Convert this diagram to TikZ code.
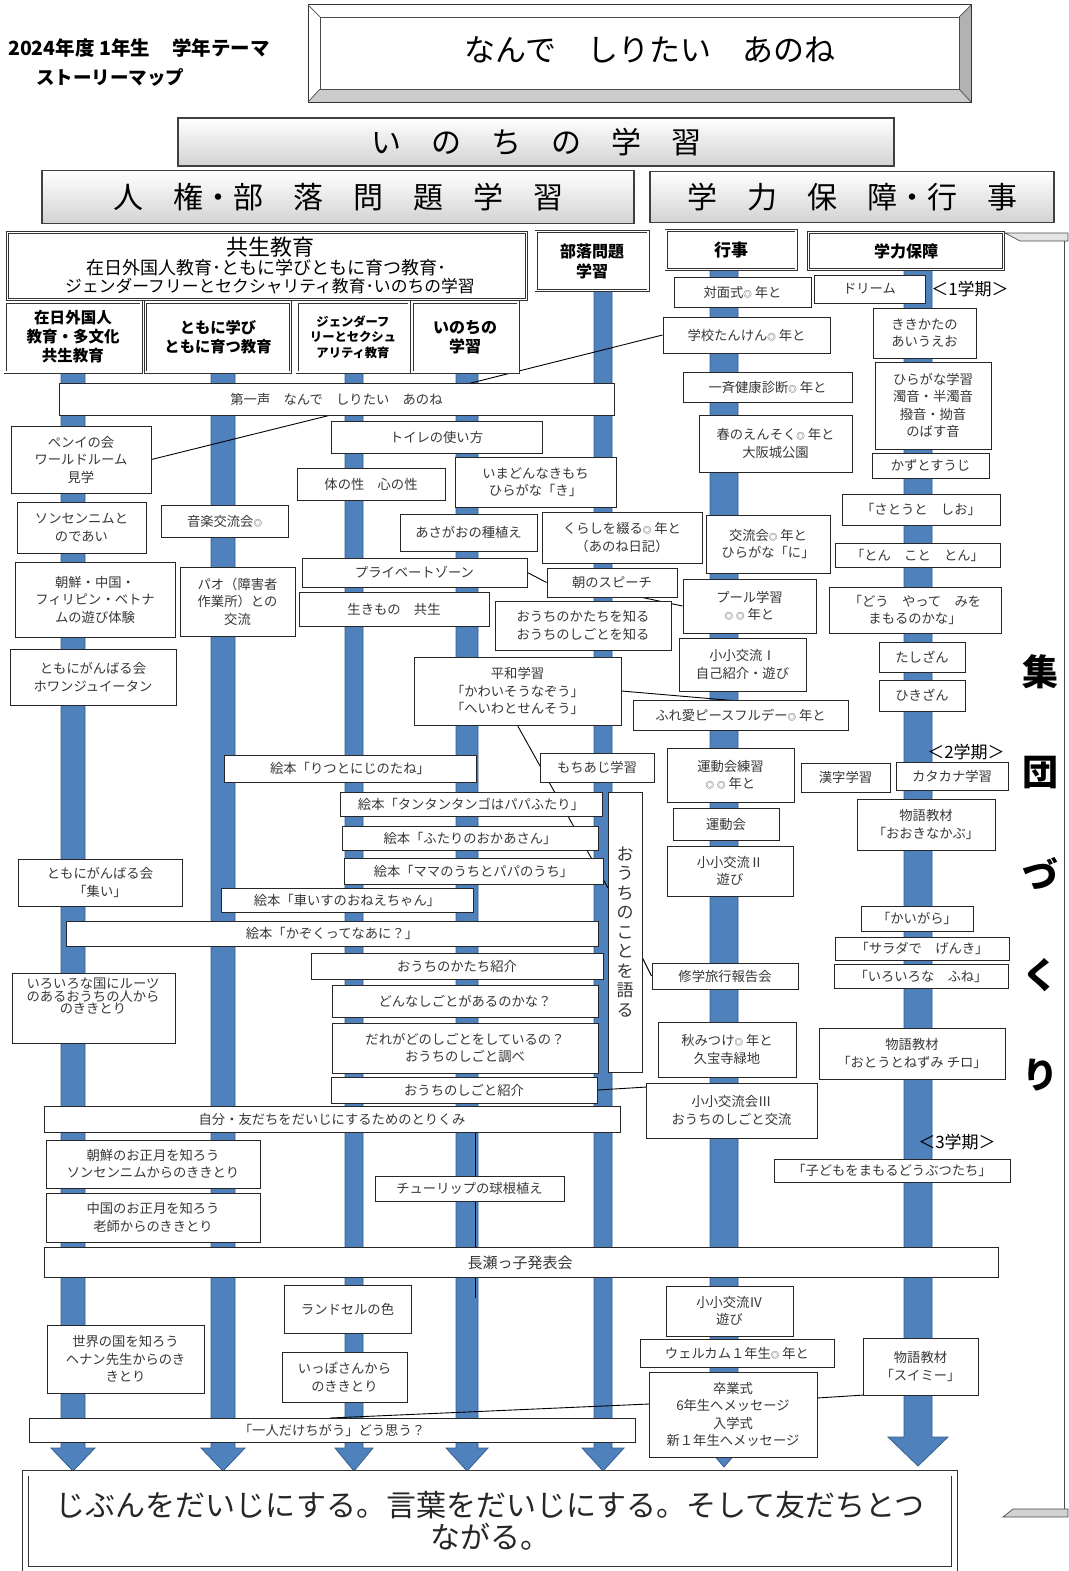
\documentclass[tikz,border=0pt]{standalone}
\usepackage{fontspec}
\setmainfont{Noto Sans CJK JP}
\usetikzlibrary{calc}
\pgfdeclarelayer{bg}
\pgfdeclarelayer{bars}
\pgfdeclarelayer{lines}
\pgfsetlayers{bg,bars,lines,main}
\definecolor{barblue}{RGB}{79,129,189}
\definecolor{baredge}{RGB}{52,94,146}
\definecolor{txt}{RGB}{55,55,55}
\newcommand\mk{{\fontsize{8.5}{8}\selectfont ◎}}
\tikzset{
  box/.style={draw=black!85, line width=1pt, fill=white, inner sep=0pt, align=center, text=txt, font=\fontsize{13.3}{17.5}\selectfont},
  hdr/.style={draw=black!80, line width=0.8pt, double=white, double distance=1.4pt, fill=white, inner sep=0pt, align=center, font=\bfseries\fontsize{15.3}{19}\selectfont},
  big/.style={draw=black!75, line width=1.4pt, top color=white, bottom color=gray!35, inner sep=0pt, font=\fontsize{30}{30}\selectfont},
  plain/.style={inner sep=0pt, align=center},
  conn/.style={draw=black, line width=0.9pt},
}
\newcommand\bx[7][]{\node[box,minimum width={(#5-#3)*1pt},minimum height={(#6-#4)*1pt},#1] (#2) at ({(#3+#5)/2},{(#4+#6)/2}) {#7};}
\newcommand\arr[6]{\filldraw[fill=barblue,draw=baredge,line width=0.8pt] (#1,#3) -- (#2,#3) -- (#2,#4) -- ({(#1+#2)/2+#6},#4) -- ({(#1+#2)/2},#5) -- ({(#1+#2)/2-#6},#4) -- (#1,#4) -- cycle;}
\begin{document}
\begin{tikzpicture}[x=1pt,y=-1pt]
\useasboundingbox (0,0) rectangle (1068,1571);
\begin{pgfonlayer}{bg}
\fill[white] (0,0) rectangle (1068,1571);
\end{pgfonlayer}
% ---------- blue column arrows
\begin{pgfonlayer}{bars}
\arr{61}{85}{372}{1448}{1471}{22}
\arr{211}{235}{372}{1448}{1471}{22}
\arr{345}{363}{372}{1448}{1471}{19}
\arr{456}{478}{372}{1448}{1471}{21}
\arr{594}{612}{290}{1448}{1471}{21}
\arr{710}{738}{268}{1445}{1467}{19}
\arr{904}{932}{268}{1437}{1466}{30}
\end{pgfonlayer}
% ---------- top title
\node[plain, anchor=west, font=\bfseries\fontsize{19.5}{20}\selectfont] (tl1) at (8,48) {2024年度 1年生\hspace{22pt}学年テーマ};
\node[plain, anchor=west, font=\bfseries\fontsize{18.5}{20}\selectfont] (tl2) at (36,77) {ストーリーマップ};
\fill[gray!40] (308,102) -- (320,89) -- (959,89) -- (971,102) -- cycle;
\fill[gray!60] (971,5) -- (959,17) -- (959,89) -- (971,102) -- cycle;
\draw[black!80, line width=1pt] (308,5) rectangle (971,102);
\draw[black!70, line width=0.7pt] (320,17) rectangle (959,89);
\draw[black!70, line width=0.7pt] (308,5) -- (320,17) (971,5) -- (959,17) (308,102) -- (320,89) (971,102) -- (959,89);
\node[plain, font=\fontsize{31}{31}\selectfont] (title) at (650,50) {なんで　しりたい　あのね};
\node[big, minimum width=716pt, minimum height=48pt] (inochi) at (536,142) {い　の　ち　の　学　習};
\node[big, minimum width=592pt, minimum height=53pt] (jinken) at (338,197) {人　権・部　落　問　題　学　習};
\node[big, minimum width=404pt, minimum height=51pt] (gakuryoku) at (852,197) {学　力　保　障・行　事};
% ---------- second row headers
\node[hdr, minimum width=519pt, minimum height=67pt] (kyosei) at (267,266) {};
\node[plain, font=\fontsize{22}{22}\selectfont] (kyoseiA) at (270,247) {共生教育};
\node[plain, font=\fontsize{18}{18}\selectfont] (kyoseiB) at (266,268) {在日外国人教育･ともに学びともに育つ教育･};
\node[plain, font=\fontsize{16.8}{17}\selectfont] (kyoseiC) at (270,286) {ジェンダーフリーとセクシャリティ教育･いのちの学習};
\node[hdr, minimum width=112pt, minimum height=59pt, font=\bfseries\fontsize{16}{20}\selectfont] (buraku) at (592,261) {部落問題\\学習};
\node[hdr, minimum width=130pt, minimum height=39pt, font=\bfseries\fontsize{17}{17}\selectfont] (gyoji) at (731,250) {行事};
\node[hdr, minimum width=195pt, minimum height=37pt, font=\bfseries\fontsize{16}{16}\selectfont] (gakuryokuH) at (906,251) {学力保障};
\node[hdr, minimum width=136pt, minimum height=70pt, font=\bfseries\fontsize{15.5}{19}\selectfont] (zainichi) at (73,337) {在日外国人\\教育・多文化\\共生教育};
\node[hdr, minimum width=145pt, minimum height=70pt, font=\bfseries\fontsize{15.3}{18.5}\selectfont] (tomoni) at (218,337) {ともに学び\\ともに育つ教育};
\node[hdr, minimum width=112pt, minimum height=70pt, font=\bfseries\fontsize{12.3}{15.5}\selectfont] (gender) at (353,337) {ジェンダーフ\\リーとセクシュ\\アリティ教育};
\node[hdr, minimum width=106pt, minimum height=70pt, font=\bfseries\fontsize{16}{19}\selectfont] (inochiH) at (465,337) {いのちの\\学習};
% ---------- right side 集団づくり
\fill[gray!20, draw=black!70, line width=0.7pt] (1005,233) -- (1068,233) -- (1068,241) -- (1020,241) -- cycle;
\fill[gray!35, draw=black!70, line width=0.7pt] (1003,1517) -- (1068,1517) -- (1068,1509) -- (1013,1509) -- cycle;
\draw[black!70, line width=0.8pt] (1064,241) -- (1064,1509);
\node[plain, font=\bfseries\fontsize{36}{36}\selectfont] (shu) at (1040,672) {集};
\node[plain, font=\bfseries\fontsize{36}{36}\selectfont] (dan) at (1040,773) {団};
\node[plain, font=\bfseries\fontsize{36}{36}\selectfont] (zu) at (1040,873) {づ};
\node[plain, font=\bfseries\fontsize{36}{36}\selectfont] (ku) at (1040,975) {く};
\node[plain, font=\bfseries\fontsize{36}{36}\selectfont] (ri) at (1040,1075) {り};
% ---------- term labels
\node[plain, font=\fontsize{17}{17}\selectfont] (term1) at (970,289) {＜1学期＞};
\node[plain, font=\fontsize{17}{17}\selectfont] (term2) at (966,752) {＜2学期＞};
\node[plain, font=\fontsize{17}{17}\selectfont] (term3) at (957,1142) {＜3学期＞};
% ---------- left side boxes
\bx{daiichi}{59}{383}{614}{415}{第一声　なんで　しりたい　あのね}
\bx{penyi}{11}{426}{151}{493}{ペンイの会\\ワールドルーム\\見学}
\bx{sonsen}{17}{502}{146}{553}{ソンセンニムと\\のであい}
\bx{asobi}{15}{562}{175}{637}{朝鮮・中国・\\フィリピン・ベトナ\\ムの遊び体験}
\bx{howan}{10}{649}{176}{705}{ともにがんばる会\\ホワンジュイータン}
\bx{tsudoi}{18}{859}{182}{906}{ともにがんばる会\\「集い」}
\bx{iroiro}{12}{973}{175}{1043}{}
\node[plain, text=txt, font=\fontsize{13.3}{10.5}\selectfont] (iroiroT) at (93,996) {いろいろな国にルーツ\\のあるおうちの人から\\のききとり};
\bx{choseno}{46}{1140}{260}{1188}{朝鮮のお正月を知ろう\\ソンセンニムからのききとり}
\bx{chugoku}{46}{1193}{260}{1242}{中国のお正月を知ろう\\老師からのききとり}
\bx{sekai}{47}{1325}{204}{1393}{世界の国を知ろう\\ヘナン先生からのき\\きとり}
\bx{ongaku}{161}{505}{288}{537}{音楽交流会\mk}
\bx{pao}{180}{567}{295}{636}{パオ（障害者\\作業所）との\\交流}
\bx{toire}{331}{421}{542}{453}{トイレの使い方}
\bx{karada}{297}{468}{445}{500}{体の性　心の性}
\bx{imadonna}{455}{457}{616}{507}{いまどんなきもち\\ひらがな「き」}
\bx{asagao}{400}{514}{537}{551}{あさがおの種植え}
\bx{kurashi}{542}{512}{702}{563}{くらしを綴る\mk\ 年と\\（あのね日記）}
\bx{private}{302}{558}{527}{587}{プライベートゾーン}
\bx{asa}{547}{568}{677}{597}{朝のスピーチ}
\bx{ikimono}{299}{592}{489}{626}{生きもの　共生}
\bx{katachi}{495}{601}{671}{650}{おうちのかたちを知る\\おうちのしごとを知る}
\bx{heiwa}{414}{657}{621}{725}{平和学習\\「かわいそうなぞう」\\「へいわとせんそう」}
\bx{ritsu}{224}{755}{476}{782}{絵本「りつとにじのたね」}
\bx{mochi}{540}{753}{654}{782}{もちあじ学習}
\bx{tango}{340}{792}{602}{816}{絵本「タンタンタンゴはパパふたり」}
\bx{futari}{342}{826}{598}{850}{絵本「ふたりのおかあさん」}
\bx{mama}{344}{858}{603}{884}{絵本「ママのうちとパパのうち」}
\bx{kuruma}{221}{888}{473}{912}{絵本「車いすのおねえちゃん」}
\bx{kazoku}{66}{921}{598}{946}{絵本「かぞくってなあに？」}
\bx{katachiS}{311}{953}{603}{979}{おうちのかたち紹介}
\bx{donna}{332}{985}{598}{1017}{どんなしごとがあるのかな？}
\bx{dare}{332}{1023}{598}{1073}{だれがどのしごとをしているの？\\おうちのしごと調べ}
\bx{shigotoS}{331}{1077}{597}{1103}{おうちのしごと紹介}
\bx{jibun}{44}{1106}{620}{1132}{自分・友だちをだいじにするためのとりくみ}
\bx{tulip}{375}{1176}{564}{1201}{チューリップの球根植え}
\bx{nagase}{44}{1247}{998}{1277}{}
\node[plain, text=txt, font=\fontsize{15}{15}\selectfont] (nagaseT) at (520,1263) {長瀬っ子発表会};
\bx{randoseru}{284}{1285}{411}{1333}{ランドセルの色}
\bx{ippo}{282}{1352}{407}{1402}{いっぽさんから\\のききとり}
\bx{hitori}{29}{1418}{635}{1442}{「一人だけちがう」どう思う？}
\bx[font=\fontsize{17}{19.5}\selectfont]{ouchi}{608}{792}{642}{1072}{お\\う\\ち\\の\\こ\\と\\を\\語\\る}
% ---------- 行事 column
\bx{taimen}{674}{277}{811}{307}{対面式\mk\ 年と}
\bx{tanken}{663}{317}{830}{353}{学校たんけん\mk\ 年と}
\bx{kenko}{683}{372}{852}{402}{一斉健康診断\mk\ 年と}
\bx{ensoku}{699}{415}{852}{472}{春のえんそく\mk\ 年と\\大阪城公園}
\bx{koryu}{706}{515}{830}{573}{交流会\mk\ 年と\\ひらがな「に」}
\bx{pool}{683}{579}{816}{633}{プール学習\\\mk\ \mk\ 年と}
\bx{sho1}{679}{638}{806}{691}{小小交流Ⅰ\\自己紹介・遊び}
\bx{fureai}{633}{700}{848}{730}{ふれ愛ピースフルデー\mk\ 年と}
\bx{undoR}{667}{748}{794}{802}{運動会練習\\\mk\ \mk\ 年と}
\bx{undo}{673}{808}{779}{840}{運動会}
\bx{sho2}{667}{846}{793}{896}{小小交流Ⅱ\\遊び}
\bx{shugaku}{652}{963}{798}{989}{修学旅行報告会}
\bx{aki}{658}{1022}{796}{1077}{秋みつけ\mk\ 年と\\久宝寺緑地}
\bx{sho3}{646}{1083}{817}{1138}{小小交流会Ⅲ\\おうちのしごと交流}
\bx{sho4}{666}{1286}{793}{1336}{小小交流Ⅳ\\遊び}
\bx{welcome}{640}{1339}{834}{1367}{ウェルカム１年生\mk\ 年と}
\bx{sotsu}{649}{1372}{817}{1457}{卒業式\\6年生へメッセージ\\入学式\\新１年生へメッセージ}
% ---------- 学力保障 column
\bx{dream}{814}{275}{925}{303}{ドリーム}
\bx{kikikata}{873}{308}{976}{358}{ききかたの\\あいうえお}
\bx{hiragana}{875}{362}{991}{449}{ひらがな学習\\濁音・半濁音\\撥音・拗音\\のばす音}
\bx{kazu}{872}{453}{989}{478}{かずとすうじ}
\bx{sato}{842}{494}{1000}{525}{「さとうと　しお」}
\bx{ton}{835}{543}{1000}{567}{「とん　こと　とん」}
\bx{dou}{829}{587}{1001}{633}{「どう　やって　みを\\まもるのかな」}
\bx{tashi}{879}{642}{965}{672}{たしざん}
\bx{hiki}{879}{680}{965}{711}{ひきざん}
\bx{kanji}{801}{763}{890}{792}{漢字学習}
\bx{kata}{896}{762}{1008}{790}{カタカナ学習}
\bx{kabu}{857}{799}{995}{850}{物語教材\\「おおきなかぶ」}
\bx{kaigara}{861}{906}{973}{931}{「かいがら」}
\bx{salad}{835}{937}{1009}{960}{「サラダで　げんき」}
\bx{fune}{834}{964}{1008}{988}{「いろいろな　ふね」}
\bx{chiro}{819}{1028}{1005}{1079}{物語教材\\「おとうとねずみ チロ」}
\bx{kodomo}{774}{1159}{1010}{1182}{「子どもをまもるどうぶつたち」}
\bx{swimmy}{863}{1338}{978}{1395}{物語教材\\「スイミー」}
% ---------- goal box
\node[draw=black!80, line width=0.9pt, double=white, double distance=5pt, fill=white, minimum width=929pt, minimum height=96pt] (goal) at (490,1521) {};
\node[plain, text=black!85, font=\fontsize{30}{32}\selectfont] (goalT) at (490,1521) {じぶんをだいじにする。言葉をだいじにする。そして友だちとつ\\ながる。};
% ---------- connectors
\coordinate (c1) at (463,385);
\coordinate (c2) at (335,414);
\coordinate (c4) at (640,597);
\coordinate (c5) at (738,701);
\coordinate (c6) at (608,888);
\coordinate (c7) at (642,957);
\coordinate (c8) at (647,1087);
\coordinate (c9a) at (475,1132);
\coordinate (c9b) at (475,1298);
\coordinate (c10a) at (330,1418);
\coordinate (c10b) at (649,1404);
\coordinate (c11a) at (817,1398);
\coordinate (c11b) at (880,1394);
\begin{pgfonlayer}{lines}
\draw[conn] (c1) -- (tanken.west);
\draw[conn] (penyi.east) -- (c2);
\draw[conn] (private.east) -- (asa.west);
\draw[conn] (c4) -- (pool.west);
\draw[conn] (heiwa.east) -- (c5);
\draw[conn] (heiwa.south) -- (c6);
\draw[conn] (c7) -- (shugaku.west);
\draw[conn] (shigotoS.east) -- (c8);
\draw[conn] (c9a) -- (c9b);
\draw[conn] (c10a) -- (c10b);
\draw[conn] (c11a) -- (c11b);
\end{pgfonlayer}
\end{tikzpicture}
\end{document}
